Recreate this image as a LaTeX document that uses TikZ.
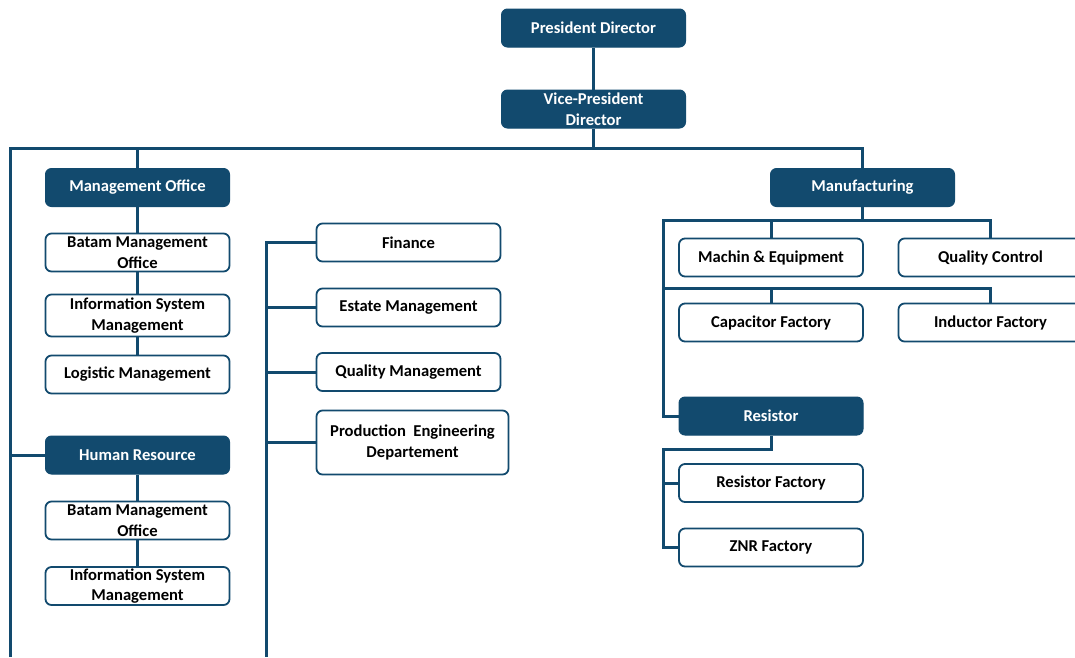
\documentclass[tikz,border=0pt]{standalone}
\usepackage{fontspec}
\setmainfont{Carlito}
\definecolor{navy}{RGB}{18,74,110}
\begin{document}
\begin{tikzpicture}[x=1pt,y=-1pt,
  every node/.style={font=\fontsize{16.6}{20.5}\selectfont\bfseries, align=center, inner sep=0pt},
  head/.style={rounded corners=6pt, fill=navy, draw=navy, line width=1pt, text=white, minimum width=184pt, minimum height=38pt},
  unit/.style={rounded corners=6pt, draw=navy, fill=white, line width=1.8pt, text=black, minimum width=184pt, minimum height=38pt},
  link/.style={draw=navy, line width=3pt}]
\useasboundingbox (0,0) rectangle (1075,657);

\node[head] (pd) at (593.5,28) {President Director};
\node[head] (vp) at (593.5,109) {Vice-President\\Director};
\node[head] (mo) at (137.5,187.5) {Management Office};
\node[unit] (mo1) at (137.5,252.5) {Batam Management\\Office};
\node[unit, minimum height=42pt] (mo2) at (137.5,315.5) {Information System\\Management};
\node[unit] (mo3) at (137.5,374.5) {Logistic Management};
\node[head] (hr) at (137.5,455) {Human Resource};
\node[unit] (hr1) at (137.5,520.5) {Batam Management\\Office};
\node[unit] (hr2) at (137.5,586) {Information System\\Management};
\node[unit] (fin) at (408.5,242.5) {Finance};
\node[unit] (est) at (408.5,307.5) {Estate Management};
\node[unit] (qm) at (408.5,372) {Quality Management};
\node[unit, minimum width=192pt, minimum height=64pt] (pe) at (412.5,442.5) {Production\ \ Engineering\\Departement};
\node[head] (man) at (862.5,187.5) {Manufacturing};
\node[unit] (me) at (771,257.5) {Machin \& Equipment};
\node[unit] (qc) at (990.5,257.5) {Quality Control};
\node[unit] (cap) at (771,322.5) {Capacitor Factory};
\node[unit] (ind) at (990.5,322.5) {Inductor Factory};
\node[head] (res) at (771,416) {Resistor};
\node[unit] (rf) at (771,483) {Resistor Factory};
\node[unit] (znr) at (771,547.5) {ZNR Factory};

\coordinate (lbot) at (10,657);
\coordinate (lc) at (10,148);
\coordinate (mt) at (266,242.5);
\coordinate (mb) at (266,657);
\coordinate (b1L) at (663,220);
\coordinate (b1R) at (990.5,220);
\coordinate (b2L) at (663,288);
\coordinate (b2R) at (990.5,288);
\coordinate (rk) at (663,449);

\draw[link] (pd) -- (vp);
\draw[link] (vp.south) -- (vp.south |- lc);
\draw[link] (lbot) -- (lc) -- (man.north |- lc) -- (man.north);
\draw[link] (mo.north) -- (mo.north |- lc);
\draw[link] (mo) -- (mo1);
\draw[link] (mo1) -- (mo2);
\draw[link] (mo2) -- (mo3);
\draw[link] (hr.west) -- (hr.west -| lc);
\draw[link] (hr) -- (hr1);
\draw[link] (hr1) -- (hr2);

\draw[link] (fin.west) -- (mt) -- (mb);
\draw[link] (est.west) -- (est.west -| mt);
\draw[link] (qm.west) -- (qm.west -| mt);
\draw[link] (pe.west) -- (pe.west -| mt);

\draw[link] (man.south) -- (man.south |- b1L);
\draw[link] (res.west) -| (b1L) -- (b1R) -- (qc.north);
\draw[link] (me.north) -- (me.north |- b1L);
\draw[link] (b2L) -- (b2R) -- (ind.north);
\draw[link] (cap.north) -- (cap.north |- b2L);
\draw[link] (res.south) |- (rk) -- (rk |- znr.west) -- (znr.west);
\draw[link] (rf.west) -- (rf.west -| rk);
\end{tikzpicture}
\end{document}
